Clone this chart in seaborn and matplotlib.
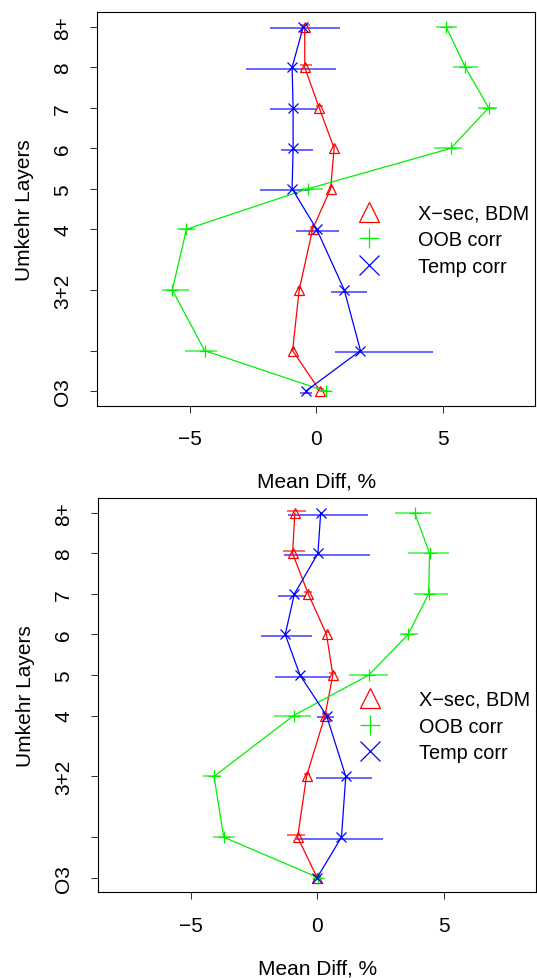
import numpy as np
import pandas as pd
import matplotlib
matplotlib.use("Agg")
import matplotlib.pyplot as plt
from matplotlib.lines import Line2D
import seaborn as sns

# ---- data ----
layer_pos = [0, 1, 2.5, 4, 5, 6, 7, 8, 9]
layer_labels = ["O3", "", "3+2", "4", "5", "6", "7", "8", "8+"]
x_ticks = [-5, 0, 5]
series_names = ["X\u2212sec, BDM", "OOB corr", "Temp corr"]

# top panel
xsec_top = [0.16, -0.93, -0.67, -0.14, 0.57, 0.71, 0.12, -0.45, -0.45]
xsec_top_lo = [0.05, -1.00, -0.75, -0.25, 0.50, 0.65, 0.00, -0.62, -0.62]
xsec_top_hi = [0.30, -0.85, -0.60, -0.05, 0.65, 0.78, 0.28, -0.18, -0.25]
oob_top = [0.37, -4.40, -5.68, -5.12, -0.32, 5.32, 6.81, 5.89, 5.13]
oob_top_lo = [0.20, -5.16, -6.07, -5.48, -0.54, 4.66, 6.40, 5.42, 4.72]
oob_top_hi = [0.55, -3.90, -5.02, -4.79, 0.28, 5.75, 7.15, 6.37, 5.57]
temp_top = [-0.41, 1.75, 1.11, 0.02, -0.95, -0.91, -0.91, -0.95, -0.51]
temp_top_lo = [-0.65, 0.74, 0.57, -0.81, -2.22, -1.40, -1.83, -2.75, -1.83]
temp_top_hi = [-0.15, 4.60, 1.99, 0.90, -0.25, -0.14, 0.02, 0.77, 0.96]

# bottom panel
xsec_bot = [0.00, -0.77, -0.42, 0.31, 0.62, 0.37, -0.35, -0.97, -0.88]
xsec_bot_lo = [-0.15, -1.20, -0.50, 0.20, 0.45, 0.30, -0.50, -1.34, -1.20]
xsec_bot_hi = [0.15, -0.48, -0.30, 0.45, 0.75, 0.45, -0.20, -0.48, -0.44]
oob_bot = [0.05, -3.69, -4.07, -0.93, 2.04, 3.59, 4.40, 4.44, 3.85]
oob_bot_lo = [-0.10, -4.11, -4.50, -1.69, 1.26, 3.29, 3.84, 3.59, 3.06]
oob_bot_hi = [0.20, -3.26, -3.81, -0.25, 2.80, 3.97, 5.15, 5.22, 4.50]
temp_bot = [0.00, 0.96, 1.13, 0.37, -0.68, -1.26, -0.90, 0.03, 0.14]
temp_bot_lo = [-0.15, -0.84, -0.05, 0.01, -1.66, -2.21, -1.56, -1.30, -1.17]
temp_bot_hi = [0.15, 2.59, 2.17, 0.67, 0.51, -0.21, -0.44, 2.07, 2.02]

# ---- style ----
sns.set_style("white")
plt.rcParams["font.family"] = ["Liberation Sans", "DejaVu Sans"]
plt.rcParams["axes.unicode_minus"] = True
plt.rcParams["text.color"] = "black"
plt.rcParams["axes.labelcolor"] = "black"
plt.rcParams["xtick.color"] = "black"
plt.rcParams["ytick.color"] = "black"

colors = ["#FF0000", "#00F000", "#0000FF"]
markers = ["^", "+", "x"]
msizes = [6.5, 8, 7]
bar_offsets = [0.05, 0.0, -0.04]

fig = plt.figure(figsize=(5.37, 9.79), dpi=100)
ax_top = fig.add_axes([97.3 / 537, 1 - 406.7 / 979, 437.7 / 537, 393.4 / 979])
ax_bot = fig.add_axes([98.3 / 537, 1 - 893.3 / 979, 437.7 / 537, 394.0 / 979])

panels = [
    (ax_top, [(xsec_top, xsec_top_lo, xsec_top_hi),
              (oob_top, oob_top_lo, oob_top_hi),
              (temp_top, temp_top_lo, temp_top_hi)]),
    (ax_bot, [(xsec_bot, xsec_bot_lo, xsec_bot_hi),
              (oob_bot, oob_bot_lo, oob_bot_hi),
              (temp_bot, temp_bot_lo, temp_bot_hi)]),
]

ypos = np.array(layer_pos, dtype=float)

for ax, series in panels:
    for i, (vals, lo, hi) in enumerate(series):
        c = colors[i]
        # error bars
        ax.hlines(ypos + bar_offsets[i], lo, hi, color=c, lw=1.4, alpha=0.6, zorder=2)
        df = pd.DataFrame({"diff": vals, "layer": ypos})
        sns.lineplot(data=df, x="diff", y="layer", orient="y", ax=ax,
                     color=c, lw=0.9, marker=markers[i], markersize=msizes[i],
                     markeredgecolor=c, markerfacecolor="none",
                     markeredgewidth=0.9, errorbar=None, zorder=3)

    ax.set_xlim(-8.64, 8.64)
    ax.set_ylim(-0.36, 9.36)
    ax.set_xticks(x_ticks)
    ax.set_yticks(layer_pos)
    ax.set_yticklabels(layer_labels, rotation=90, va="center")
    ax.tick_params(axis="both", direction="out", length=5, width=0.75,
                   color="#333333", labelcolor="black", labelsize=15,
                   left=True, bottom=True)
    ax.tick_params(axis="y", pad=13)
    ax.tick_params(axis="x", pad=12)
    for s in ax.spines.values():
        s.set_visible(True)
        s.set_color("black")
        s.set_linewidth(0.8)

    ax.set_xlabel("Mean Diff, %", fontsize=15, color="black")
    ax.set_ylabel("Umkehr Layers", fontsize=15, color="black")
    ax.xaxis.set_label_coords(0.5, -0.168)
    ax.yaxis.set_label_coords(-0.145, 0.5)

    handles = [Line2D([], [], ls="none", marker=markers[k], ms=14.4,
                      mfc="none", mec=colors[k], mew=0.9) for k in range(3)]
    leg = ax.legend(handles, series_names, loc="center left",
                    bbox_to_anchor=(0.5755, 0.422), frameon=False, fontsize=14.3,
                    handlelength=2, handletextpad=1.45, borderpad=0,
                    borderaxespad=0, labelspacing=0.38)
    for t in leg.get_texts():
        t.set_color("black")

fig.savefig("out.png", dpi=100)
